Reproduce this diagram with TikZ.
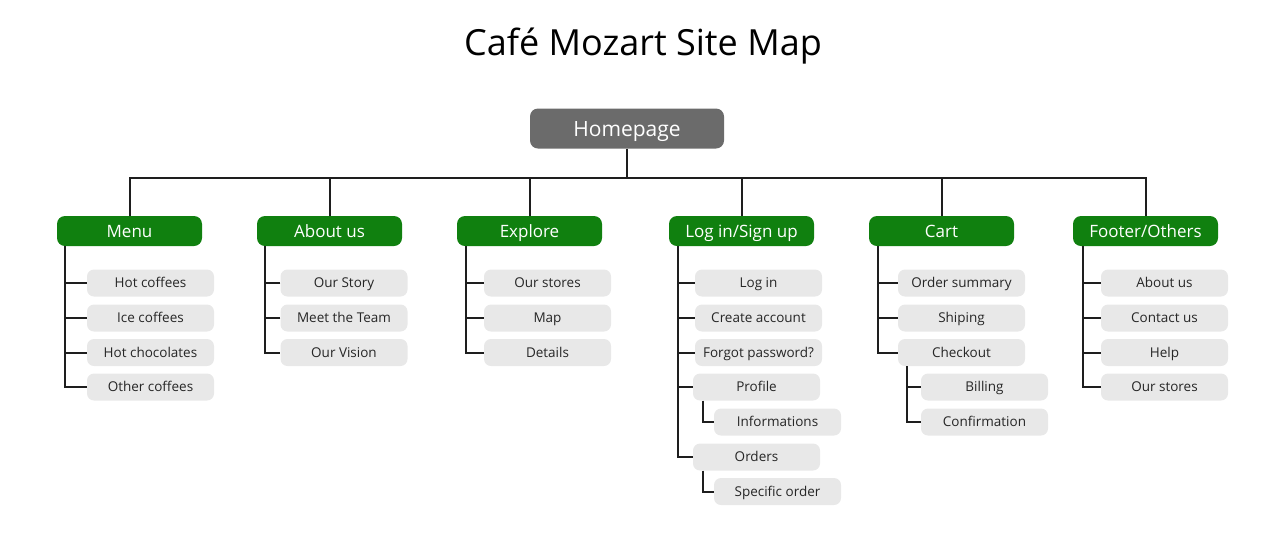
\documentclass[tikz,border=0pt]{standalone}
\usepackage{fontspec}
\setmainfont{Open Sans}
\definecolor{catgreen}{HTML}{10800F}
\definecolor{homegray}{HTML}{6B6B6B}
\definecolor{leafgray}{HTML}{E8E8E8}
\definecolor{linecol}{HTML}{1E1E1E}
\begin{document}
\begin{tikzpicture}[x=1pt,y=-1pt,
  home/.style={fill=homegray,text=white,rounded corners=8,minimum width=194,minimum height=40,inner sep=0,text height=15pt,text depth=0pt,font=\fontsize{21}{24}\selectfont},
  cat/.style={fill=catgreen,text=white,rounded corners=8,minimum width=145,minimum height=30,inner sep=0,text height=12.1pt,text depth=0pt,font=\fontsize{17}{20}\selectfont},
  leaf/.style={fill=leafgray,text=black!85,rounded corners=7,minimum width=127,minimum height=27,inner sep=0,text height=9.6pt,text depth=0pt,font=\fontsize{13.5}{16}\selectfont},
  conn/.style={draw=linecol,line width=2}]
\useasboundingbox (0,0) rectangle (1285,550);
\node[font=\fontsize{36}{42}\selectfont] (title) at (643,46) {Café Mozart Site Map};
\node[home] (home) at (627,128.5) {Homepage};
% categories
\node[cat] (menu) at (129.5,231) {Menu};
\node[cat] (about) at (329.5,231) {About us};
\node[cat] (explore) at (529.5,231) {Explore};
\node[cat] (login) at (741.5,231) {Log in/Sign up};
\node[cat] (cart) at (941.5,231) {Cart};
\node[cat] (footer) at (1145.5,231) {Footer/Others};
% bus
\coordinate (bus) at (628,178);
\draw[conn] (home.south) -- (home.south |- bus);
\draw[conn] (menu.north) -- (menu.north |- bus) -| (footer.north);
\foreach \c in {about,explore,login,cart} \draw[conn] (\c.north) -- (\c.north |- bus);
% Menu leaves
\node[leaf] (m1) at (150.5,283) {Hot coffees};
\node[leaf] (m2) at (150.5,318) {Ice coffees};
\node[leaf] (m3) at (150.5,352.5) {Hot chocolates};
\node[leaf] (m4) at (150.5,387) {Other coffees};
\coordinate (mline) at ([xshift=8]menu.south west);
\draw[conn] (mline) |- (m4.west);
\foreach \n in {m1,m2,m3} \draw[conn] (\n.west) -- (\n.west -| mline);
% About leaves
\node[leaf] (a1) at (344,283) {Our Story};
\node[leaf] (a2) at (344,318) {Meet the Team};
\node[leaf] (a3) at (344,352.5) {Our Vision};
\coordinate (aline) at ([xshift=8]about.south west);
\draw[conn] (aline) |- (a3.west);
\foreach \n in {a1,a2} \draw[conn] (\n.west) -- (\n.west -| aline);
% Explore leaves
\node[leaf] (e1) at (547.5,283) {Our stores};
\node[leaf] (e2) at (547.5,318) {Map};
\node[leaf] (e3) at (547.5,352.5) {Details};
\coordinate (eline) at ([xshift=9]explore.south west);
\draw[conn] (eline) |- (e3.west);
\foreach \n in {e1,e2} \draw[conn] (\n.west) -- (\n.west -| eline);
% Login leaves
\node[leaf] (l1) at (758.5,283) {Log in};
\node[leaf] (l2) at (758.5,318) {Create account};
\node[leaf] (l3) at (758.5,352.5) {Forgot password?};
\node[leaf] (l4) at (756.5,387) {Profile};
\node[leaf] (l5) at (777.5,422) {Informations};
\node[leaf] (l6) at (756.5,457) {Orders};
\node[leaf] (l7) at (777.5,491.5) {Specific order};
\coordinate (lline) at ([xshift=9]login.south west);
\draw[conn] (lline) |- (l6.west);
\foreach \n in {l1,l2,l3,l4} \draw[conn] (\n.west) -- (\n.west -| lline);
\draw[conn] ([xshift=10]l4.south west) |- (l5.west);
\draw[conn] ([xshift=10]l6.south west) |- (l7.west);
% Cart leaves
\node[leaf] (c1) at (961.5,283) {Order summary};
\node[leaf] (c2) at (961.5,318) {Shiping};
\node[leaf] (c3) at (961.5,352.5) {Checkout};
\node[leaf] (c4) at (984.5,387) {Billing};
\node[leaf] (c5) at (984.5,422) {Confirmation};
\coordinate (cline) at ([xshift=9]cart.south west);
\draw[conn] (cline) |- (c3.west);
\foreach \n in {c1,c2} \draw[conn] (\n.west) -- (\n.west -| cline);
\coordinate (csub) at ([xshift=9]c3.south west);
\draw[conn] (csub) |- (c5.west);
\draw[conn] (c4.west) -- (c4.west -| csub);
% Footer leaves
\node[leaf] (f1) at (1164.5,283) {About us};
\node[leaf] (f2) at (1164.5,318) {Contact us};
\node[leaf] (f3) at (1164.5,352.5) {Help};
\node[leaf] (f4) at (1164.5,387) {Our stores};
\coordinate (fline) at ([xshift=10]footer.south west);
\draw[conn] (fline) |- (f4.west);
\foreach \n in {f1,f2,f3} \draw[conn] (\n.west) -- (\n.west -| fline);
\end{tikzpicture}
\end{document}
